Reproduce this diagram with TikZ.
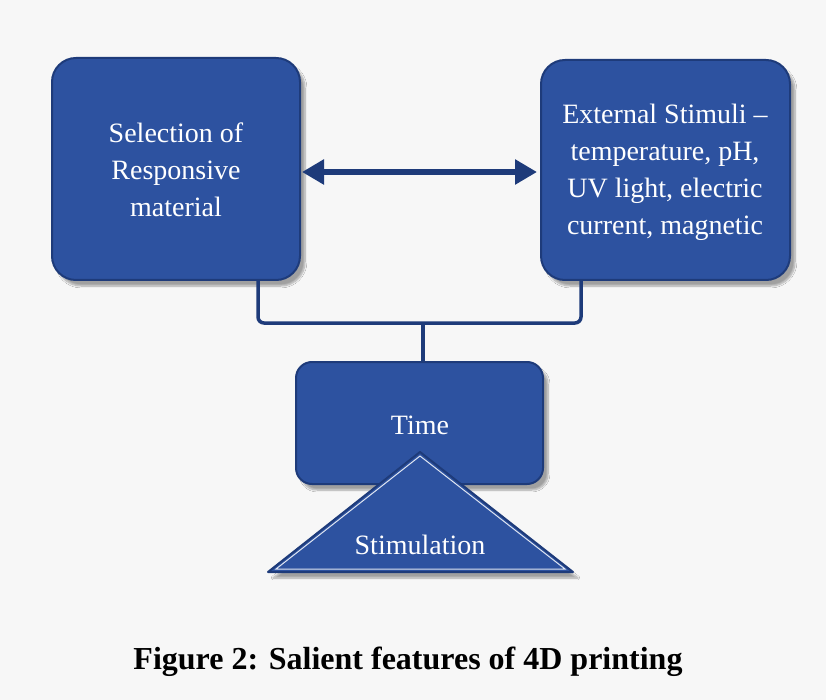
\documentclass[tikz,border=0pt]{standalone}
\usepackage{fontspec}
\setmainfont{Liberation Serif}
\usetikzlibrary{arrows.meta,shadows.blur}
\definecolor{boxblue}{HTML}{2D52A0}
\definecolor{boxedge}{HTML}{1E3B7A}
\definecolor{bg}{HTML}{F7F7F7}
\tikzset{
  bluebox/.style={draw=boxedge, line width=2pt, fill=boxblue, rounded corners=24pt,
    blur shadow={shadow xshift=5pt, shadow yshift=-6pt, shadow blur steps=8, shadow opacity=35}},
  boxtext/.style={text=white, font=\fontsize{28}{37}\selectfont, align=center},
  conn/.style={draw=boxedge, line width=3.5pt, rounded corners=6pt},
}
\begin{document}
\begin{tikzpicture}[x=1pt,y=-1pt]
\fill[bg] (0,0) rectangle (826,700);
\useasboundingbox (0,0) rectangle (826,700);
% boxes
\path[bluebox] (52,58) rectangle (300,280);
\node[boxtext] (sel) at (176,170) {Selection of\\Responsive\\material};
\path[bluebox] (541,60) rectangle (790,280);
\node[boxtext] (ext) at (665,172) {External Stimuli --\\temperature, pH,\\UV light, electric\\current, magnetic};
\coordinate (selE) at (300,172);
\coordinate (extW) at (541,172);
% double arrow
\draw[draw=boxedge, line width=6pt, {Triangle[width=24pt,length=22pt]}-{Triangle[width=24pt,length=22pt]}] ([xshift=2pt]selE) -- ([xshift=-4pt]extW);
% connector
\coordinate (lb) at (258,281);
\coordinate (rb) at (581,281);
\coordinate (mid) at (423,323);
\coordinate (timeN) at (423,362);
\draw[conn] (lb) |- (mid) -| (rb);
\draw[draw=boxedge, line width=3.5pt] (mid) -- (timeN);
% time box
\path[bluebox, rounded corners=16pt] (296,362) rectangle (543,484);
\node[boxtext] (time) at (420,425) {Time};
% triangle
\path[draw=boxedge, line width=2pt, fill=boxblue, line join=round,
  blur shadow={shadow xshift=5pt, shadow yshift=-6pt, shadow blur steps=8, shadow opacity=35}]
  (420,452) -- (573,572) -- (268,572) -- cycle;
\draw[white!85!boxblue, line width=1pt] (420,456) -- (565,569) -- (276,569) -- cycle;
\node[boxtext] (stim) at (420,545) {Stimulation};
% caption
\node[font=\bfseries\fontsize{32}{36}\selectfont, text=black] (cap) at (408,662) {Figure 2: Salient features of 4D printing};
\end{tikzpicture}
\end{document}
